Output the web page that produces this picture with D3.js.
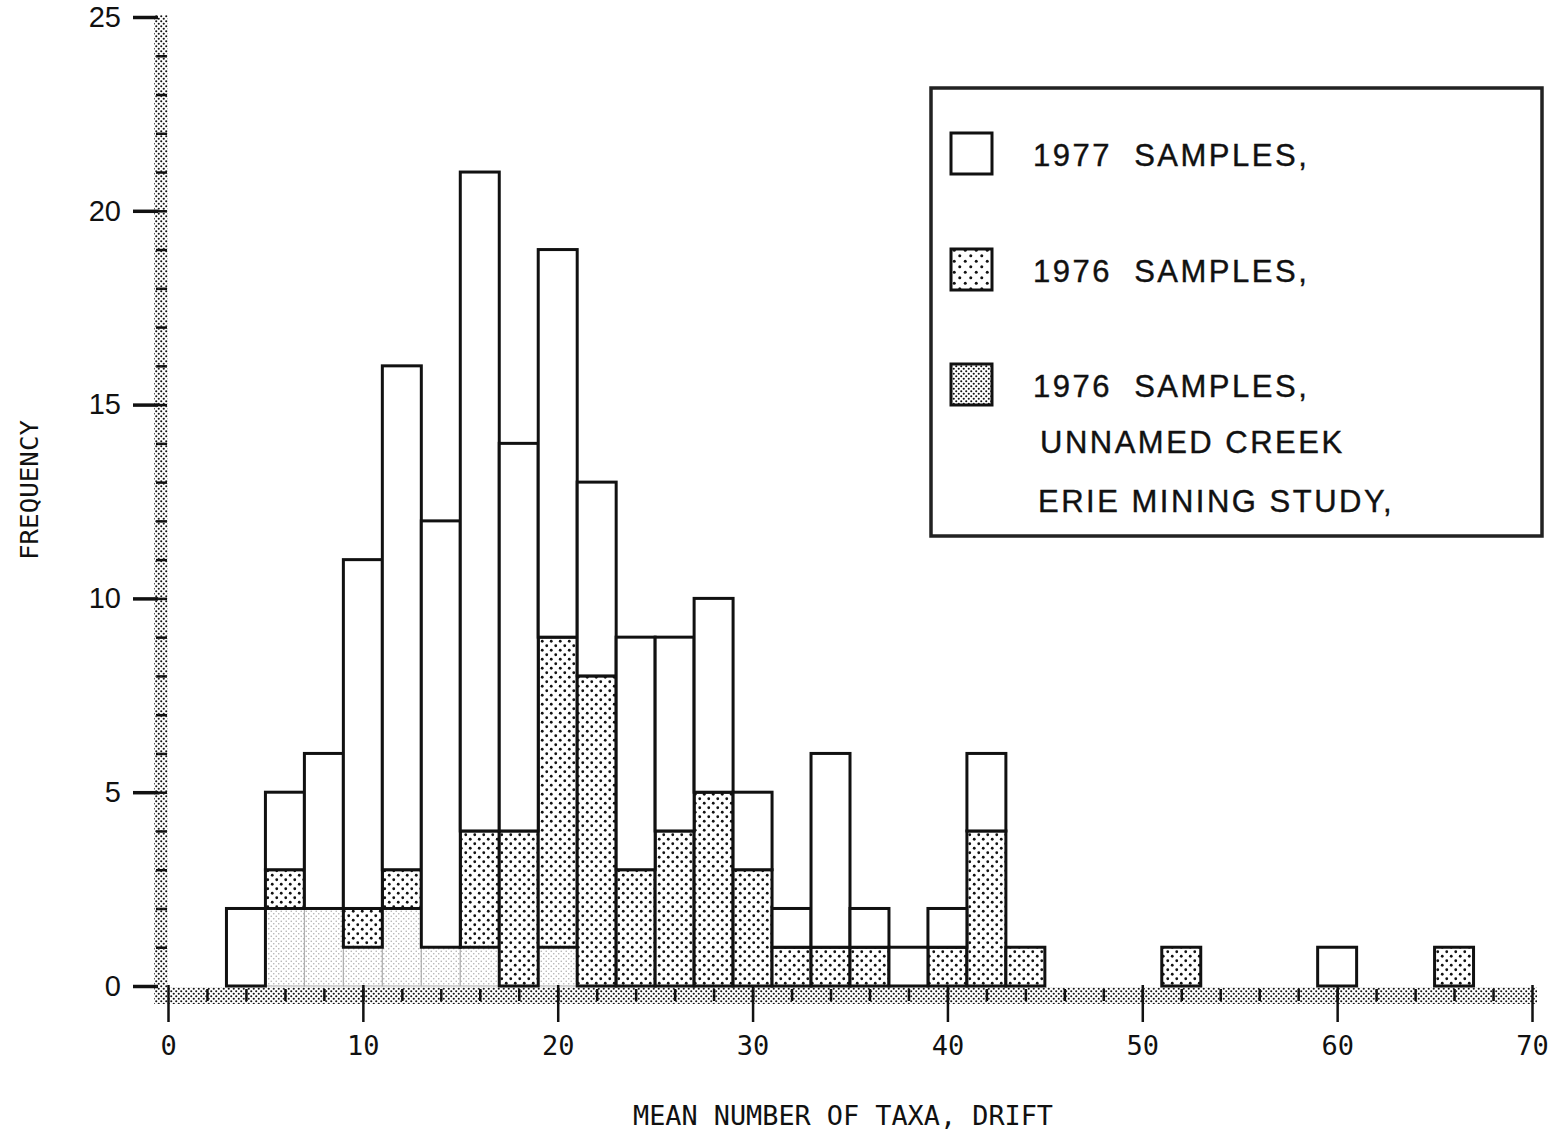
<!DOCTYPE html>
<html>
<head>
<meta charset="utf-8">
<script src="https://cdn.jsdelivr.net/npm/d3@7"></script>
<style>
  body { margin: 0; background: #fff; }
  svg { display: block; }
</style>
</head>
<body>
<div id="my_dataviz"></div>
<script>
// bins are 2 units wide, starting at these values
const binStarts = [3, 5, 7, 9, 11, 13, 15, 17, 19, 21, 23, 25, 27, 29, 31, 33, 35, 37, 39, 41, 43, 45, 47, 49, 51, 53, 55, 57, 59, 61, 63, 65];
const creek1976   = [0, 2, 2, 1, 2, 1, 1, 0, 1, 0, 0, 0, 0, 0, 0, 0, 0, 0, 0, 0, 0, 0, 0, 0, 0, 0, 0, 0, 0, 0, 0, 0];
const samples1976 = [0, 1, 0, 1, 1, 0, 3, 4, 8, 8, 3, 4, 5, 3, 1, 1, 1, 0, 1, 4, 1, 0, 0, 0, 1, 0, 0, 0, 0, 0, 0, 1];
const samples1977 = [2, 2, 4, 9, 13, 11, 17, 10, 10, 5, 6, 5, 5, 2, 1, 5, 1, 1, 1, 2, 0, 0, 0, 0, 0, 0, 0, 0, 1, 0, 0, 0];

const xMajorTicks = [0, 10, 20, 30, 40, 50, 60, 70];
const xMinorTicks = d3.range(2, 70, 2);
const yMajorTicks = [0, 5, 10, 15, 20, 25];
const yMinorTicks = d3.range(1, 25, 1);

const legendLabels = ["1977  SAMPLES,", "1976  SAMPLES,", "1976  SAMPLES,"];
const legendExtra = ["UNNAMED CREEK", "ERIE MINING STUDY,"];

const width = 1555, height = 1133;

const svg = d3.select("#my_dataviz")
  .append("svg")
  .attr("width", width)
  .attr("height", height)
  .style("background", "#fff");

const x = d3.scaleLinear().domain([0, 70]).range([168, 1532]);
const y = d3.scaleLinear().domain([0, 25]).range([986, 17]);

// dot patterns
const defs = svg.append("defs");
function dotPattern(id, size, r, color) {
  const p = defs.append("pattern")
    .attr("id", id)
    .attr("patternUnits", "userSpaceOnUse")
    .attr("width", size).attr("height", size);
  p.append("rect").attr("width", size).attr("height", size).attr("fill", "#fff");
  p.append("circle").attr("cx", size / 4).attr("cy", size / 4).attr("r", r).attr("fill", color);
  p.append("circle").attr("cx", size * 3 / 4).attr("cy", size * 3 / 4).attr("r", r).attr("fill", color);
}
dotPattern("dense", 5, 1.05, "#111");
dotPattern("denseFaded", 5, 0.8, "#b0b0b0");
dotPattern("light", 9, 1.4, "#111");
dotPattern("lightLegend", 11, 1.5, "#111");

// axis bands
svg.append("rect")
  .attr("x", 154).attr("y", y(25) - 2)
  .attr("width", 14).attr("height", 1004 - y(25) + 2)
  .attr("fill", "url(#dense)");
svg.append("rect")
  .attr("x", 160).attr("y", 987)
  .attr("width", 1537 - 160).attr("height", 17)
  .attr("fill", "url(#dense)");

// stacked bars
const rows = binStarts.map(function(s, i) {
  return { start: s, creek: creek1976[i], s1976: samples1976[i], s1977: samples1977[i] };
});
const stack = d3.stack().keys(["creek", "s1976", "s1977"]);
const series = stack(rows);
const fills = { creek: "url(#denseFaded)", s1976: "url(#light)", s1977: "#fff" };

series.forEach(function(s) {
  svg.append("g")
    .selectAll("rect")
    .data(s.filter(function(d) { return d[1] > d[0]; }))
    .join("rect")
    .attr("x", function(d) { return x(d.data.start); })
    .attr("width", function(d) { return x(d.data.start + 2) - x(d.data.start); })
    .attr("y", function(d) { return y(d[1]); })
    .attr("height", function(d) { return y(d[0]) - y(d[1]); })
    .attr("fill", fills[s.key])
    .attr("stroke", s.key === "creek" ? "#aaa" : "#111")
    .attr("stroke-width", s.key === "creek" ? 1 : 3);
});

// y axis
const yMinor = svg.append("g")
  .attr("transform", "translate(167,0)")
  .call(d3.axisLeft(y).tickValues(yMinorTicks).tickSize(11).tickFormat(""));
yMinor.select(".domain").remove();
yMinor.selectAll("line").attr("stroke", "#111").attr("stroke-width", 2.5);

const yAxis = svg.append("g")
  .attr("transform", "translate(158,0)")
  .call(d3.axisLeft(y).tickValues(yMajorTicks).tickSize(25).tickPadding(12));
yAxis.select(".domain").remove();
yAxis.selectAll("line").attr("stroke", "#111").attr("stroke-width", 3.5);
yAxis.selectAll("text")
  .attr("font-family", "'Liberation Sans', Arial, sans-serif")
  .attr("font-size", 29)
  .attr("fill", "#111");

// x axis
const xMinor = svg.append("g")
  .attr("transform", "translate(0,989)")
  .call(d3.axisBottom(x).tickValues(xMinorTicks).tickSize(12).tickFormat(""));
xMinor.select(".domain").remove();
xMinor.selectAll("line").attr("stroke", "#111").attr("stroke-width", 2.5);

const xAxis = svg.append("g")
  .attr("transform", "translate(0,985)")
  .call(d3.axisBottom(x).tickValues(xMajorTicks).tickSize(37).tickPadding(14));
xAxis.select(".domain").remove();
xAxis.selectAll("line").attr("stroke", "#111").attr("stroke-width", 2.5);
xAxis.selectAll("text")
  .attr("font-family", "'DejaVu Sans Mono', monospace")
  .attr("font-size", 27)
  .attr("fill", "#111");

// axis titles
svg.append("text")
  .attr("x", 843).attr("y", 1125)
  .attr("text-anchor", "middle")
  .attr("font-family", "'DejaVu Sans Mono', monospace")
  .attr("font-size", 27)
  .attr("textLength", 420)
  .attr("lengthAdjust", "spacingAndGlyphs")
  .attr("fill", "#111")
  .text("MEAN NUMBER OF TAXA, DRIFT");

svg.append("text")
  .attr("transform", "translate(38,490) rotate(-90)")
  .attr("text-anchor", "middle")
  .attr("font-family", "'DejaVu Sans Mono', monospace")
  .attr("font-size", 25)
  .attr("textLength", 140)
  .attr("lengthAdjust", "spacingAndGlyphs")
  .attr("fill", "#111")
  .text("FREQUENCY");

// legend
const legend = svg.append("g");
legend.append("rect")
  .attr("x", 931).attr("y", 88)
  .attr("width", 611).attr("height", 448)
  .attr("fill", "#fff")
  .attr("stroke", "#222").attr("stroke-width", 3.5);

const swatchFills = ["#fff", "url(#lightLegend)", "url(#dense)"];
const swatchY = [133, 249, 364];
const labelY = [166, 282, 397];

function legendText(tx, ty, str) {
  legend.append("text")
    .attr("x", tx).attr("y", ty)
    .attr("font-family", "'Liberation Sans', Arial, sans-serif")
    .attr("font-size", 31)
    .attr("letter-spacing", 2.5)
    .attr("fill", "#111")
    .attr("stroke", "#111").attr("stroke-width", 0.4)
    .style("white-space", "pre")
    .text(str);
}

legendLabels.forEach(function(lbl, i) {
  legend.append("rect")
    .attr("x", 951).attr("y", swatchY[i])
    .attr("width", 41).attr("height", 41)
    .attr("fill", swatchFills[i])
    .attr("stroke", "#111").attr("stroke-width", 3);
  legendText(1033, labelY[i], lbl);
});
legendText(1040, 453, legendExtra[0]);
legendText(1038, 512, legendExtra[1]);
</script>
</body>
</html>
